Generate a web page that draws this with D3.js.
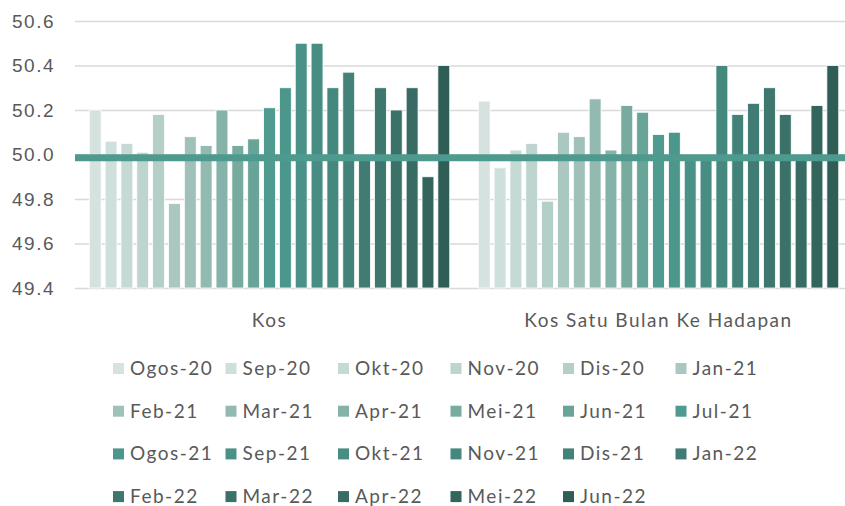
<!DOCTYPE html>
<html>
<head>
<meta charset="utf-8">
<script src="https://cdn.jsdelivr.net/npm/d3@7"></script>
<style>
  body { margin: 0; background: #fff; }
  svg { display: block; font-family: Lato, "Noto Sans", sans-serif; }
</style>
</head>
<body>
<div id="chart"></div>
<script>
// Chart data
const categories = ['Kos', 'Kos Satu Bulan Ke Hadapan'];
const months = ['Ogos-20', 'Sep-20', 'Okt-20', 'Nov-20', 'Dis-20', 'Jan-21',
    'Feb-21', 'Mar-21', 'Apr-21', 'Mei-21', 'Jun-21', 'Jul-21',
    'Ogos-21', 'Sep-21', 'Okt-21', 'Nov-21', 'Dis-21', 'Jan-22',
    'Feb-22', 'Mar-22', 'Apr-22', 'Mei-22', 'Jun-22'];
const kosValues = [50.20, 50.06, 50.05, 50.01, 50.18, 49.78, 50.08, 50.04, 50.20, 50.04, 50.07, 50.21,
    50.30, 50.50, 50.50, 50.30, 50.37, 50.00, 50.30, 50.20, 50.30, 49.90, 50.40];
const kosSatuBulanValues = [50.24, 49.94, 50.02, 50.05, 49.79, 50.10, 50.08, 50.25, 50.02, 50.22, 50.19, 50.09,
    50.10, 50.00, 50.00, 50.40, 50.18, 50.23, 50.30, 50.18, 50.00, 50.22, 50.40];
const yTicks = [49.4, 49.6, 49.8, 50.0, 50.2, 50.4, 50.6];
const thresholdLevel = 49.985;
const monthColors = ['#d5e2df', '#cde0dc', '#c5d9d5', '#bdd4cf', '#b4cec8', '#aac8c1',
    '#a0c1b9', '#93bab1', '#86b3a9', '#78ab9f', '#68a497', '#4f9b8f',
    '#4c978b', '#4a9287', '#478d83', '#45887e', '#428279', '#407c74',
    '#3d776e', '#3a7169', '#376b63', '#33655d', '#2f5e57'];

const width = 845;
const height = 506;
const plot = { left: 75, right: 853, top: 21, bottom: 288 };

const svg = d3.select('#chart')
    .append('svg')
    .attr('width', width)
    .attr('height', height);

const seriesByCategory = [kosValues, kosSatuBulanValues];

const x0 = d3.scaleBand()
    .domain(categories)
    .range([plot.left, plot.right]);

const x1 = d3.scaleBand()
    .domain(months)
    .range([0, x0.bandwidth()])
    .paddingInner(0.25)
    .paddingOuter(0.9);

const y = d3.scaleLinear()
    .domain([49.4, 50.6])
    .range([plot.bottom, plot.top]);

// Gridlines and tick labels
const yAxis = d3.axisLeft(y)
    .tickValues(yTicks)
    .tickFormat(d3.format('.1f'))
    .tickSize(-(width - plot.left))
    .tickPadding(20);

const axisG = svg.append('g')
    .attr('transform', `translate(${plot.left},0)`)
    .call(yAxis);

axisG.select('.domain').remove();
axisG.selectAll('.tick line')
    .attr('stroke', '#d9d9d9')
    .attr('stroke-width', 1.5);
axisG.selectAll('.tick text')
    .attr('fill', '#595959')
    .attr('font-size', '19px')
    .attr('letter-spacing', '1.5px');

// Bars
const groups = svg.append('g')
    .selectAll('g')
    .data(categories)
    .join('g')
    .attr('transform', d => `translate(${x0(d)},0)`);

groups.selectAll('rect')
    .data((d, i) => months.map((m, j) => ({ month: m, value: seriesByCategory[i][j], idx: j })))
    .join('rect')
    .attr('x', d => x1(d.month))
    .attr('y', d => y(d.value))
    .attr('width', x1.bandwidth())
    .attr('height', d => y(49.4) - y(d.value))
    .attr('fill', d => monthColors[d.idx])
    .attr('stroke', '#ffffff')
    .attr('stroke-width', 0.8);

// Reference line
svg.append('line')
    .attr('x1', plot.left)
    .attr('x2', width)
    .attr('y1', y(thresholdLevel))
    .attr('y2', y(thresholdLevel))
    .attr('stroke', '#4e9a8e')
    .attr('stroke-width', 7);

// Category labels
svg.append('g')
    .selectAll('text')
    .data(categories)
    .join('text')
    .attr('x', d => x0(d) + x0.bandwidth() / 2)
    .attr('y', 327)
    .attr('text-anchor', 'middle')
    .attr('fill', '#595959')
    .attr('font-size', '19px')
    .attr('letter-spacing', '1.5px')
    .text(d => d);

// Legend
const legendCols = 6;
const legendX = 113;
const legendColW = 112.5;
const legendY = 368;
const legendRowH = 42.7;

const legendItems = svg.append('g')
    .selectAll('g')
    .data(months)
    .join('g')
    .attr('transform', (d, i) => {
        const col = i % legendCols;
        const row = Math.floor(i / legendCols);
        return `translate(${legendX + col * legendColW},${legendY + row * legendRowH})`;
    });

legendItems.append('rect')
    .attr('x', 0)
    .attr('y', -5)
    .attr('width', 11)
    .attr('height', 11)
    .attr('fill', (d, i) => monthColors[i]);

legendItems.append('text')
    .attr('x', 17)
    .attr('y', 7)
    .attr('fill', '#595959')
    .attr('font-size', '19px')
    .attr('letter-spacing', '1.5px')
    .text(d => d);
</script>
</body>
</html>
